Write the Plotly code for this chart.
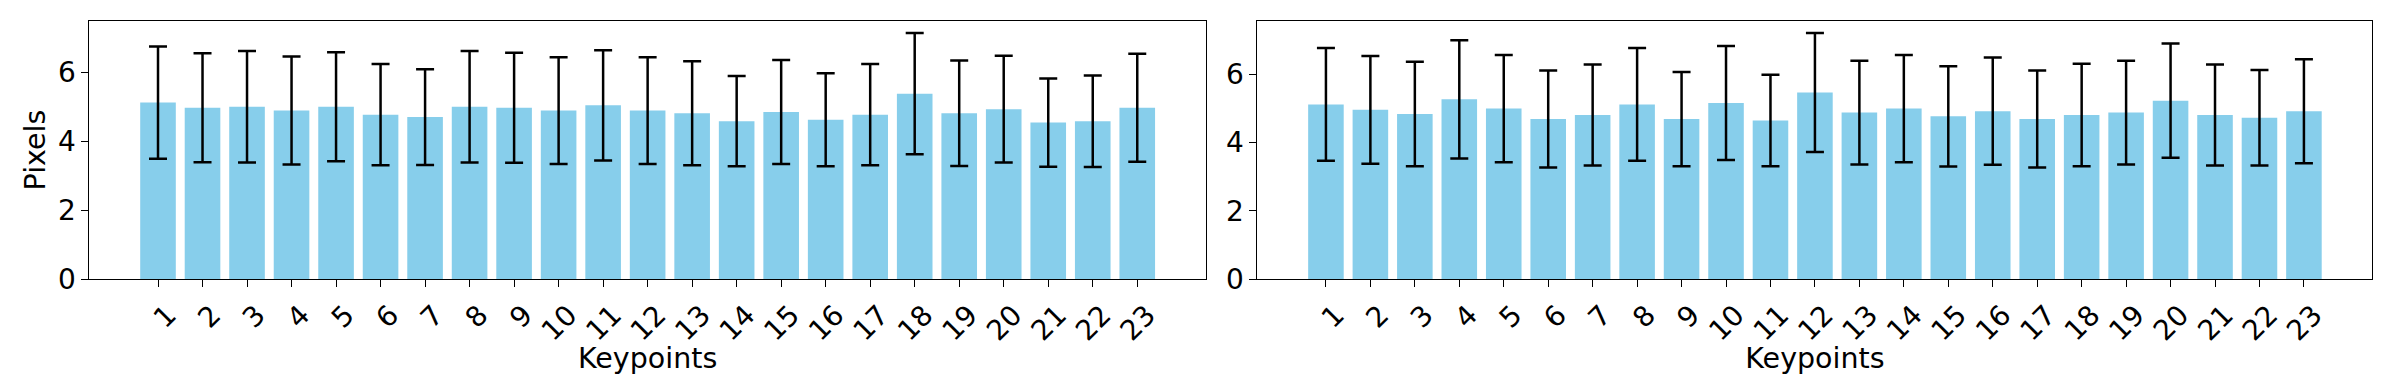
import plotly.graph_objects as go

keypoints = list(range(1, 24))
tick_labels = [str(k) for k in keypoints]

# left panel: mean error and std per keypoint
left_mean = [5.13, 4.98, 5.01, 4.90, 5.01, 4.78, 4.71, 5.01, 4.98, 4.90, 5.05, 4.90,
             4.82, 4.59, 4.86, 4.63, 4.78, 5.39, 4.82, 4.94, 4.55, 4.59, 4.98]
left_std = [1.63, 1.58, 1.62, 1.57, 1.58, 1.47, 1.39, 1.62, 1.60, 1.55, 1.60, 1.55,
            1.51, 1.31, 1.51, 1.35, 1.47, 1.76, 1.53, 1.55, 1.28, 1.33, 1.57]

# right panel
right_mean = [5.12, 4.96, 4.84, 5.27, 5.00, 4.69, 4.81, 5.12, 4.69, 5.16, 4.65, 5.47,
              4.88, 5.00, 4.77, 4.92, 4.69, 4.81, 4.88, 5.23, 4.81, 4.73, 4.92]
right_std = [1.65, 1.58, 1.53, 1.73, 1.57, 1.42, 1.48, 1.65, 1.38, 1.67, 1.34, 1.74,
             1.52, 1.57, 1.47, 1.57, 1.42, 1.50, 1.52, 1.67, 1.48, 1.40, 1.52]

W, H = 2392, 375
TICK_FONT = dict(family="DejaVu Sans", size=28, color="black")
TITLE_FONT = dict(family="DejaVu Sans", size=28.5, color="black")

fig = go.Figure()
for i, (mean, std) in enumerate([(left_mean, left_std), (right_mean, right_std)]):
    fig.add_trace(go.Bar(
        x=keypoints, y=mean,
        xaxis="x" if i == 0 else "x2",
        yaxis="y" if i == 0 else "y2",
        marker=dict(color="#87CEEB", line=dict(width=0)),
        error_y=dict(type="data", array=std, color="black", thickness=2.5, width=9),
        showlegend=False,
    ))

def x_axis(domain, anchor):
    return dict(domain=domain, anchor=anchor, range=[-0.54, 24.54],
                tickmode="array", tickvals=keypoints, ticktext=tick_labels,
                tickangle=-45, ticklabelshift=10, ticks="outside", ticklen=7,
                tickwidth=1.3, tickcolor="black", showline=True, mirror=True,
                linecolor="black", linewidth=1.3, showgrid=False, zeroline=False,
                automargin=False, tickfont=TICK_FONT,
                title=dict(text="Keypoints", font=TITLE_FONT, standoff=13))

def y_axis(anchor, top, title=None):
    d = dict(domain=[0.2552, 0.9448], anchor=anchor, range=[0, top],
             tickvals=[0, 2, 4, 6], ticks="outside", ticklen=7, tickwidth=1.3,
             tickcolor="black", showline=True, mirror=True, linecolor="black",
             linewidth=1.3, showgrid=False, zeroline=False, automargin=False,
             tickfont=TICK_FONT)
    if title:
        d["title"] = dict(text=title, font=TITLE_FONT, standoff=3)
    return d

left_top = max(m + s for m, s in zip(left_mean, left_std)) * 1.05
right_top = max(m + s for m, s in zip(right_mean, right_std)) * 1.05

fig.update_layout(
    width=W, height=H,
    margin=dict(l=0, r=0, t=0, b=0),
    paper_bgcolor="white", plot_bgcolor="white",
    bargap=0.2,
    xaxis=x_axis([0.0374, 0.5041], "y"),
    yaxis=y_axis("x", left_top, "Pixels"),
    xaxis2=x_axis([0.5257, 0.9918], "y2"),
    yaxis2=y_axis("x2", right_top),
)

# drop the default page margin so the figure sits at the window's corner
fig.write_html("out.html", config={"displayModeBar": False},
               post_script="document.body.style.margin='0';")
